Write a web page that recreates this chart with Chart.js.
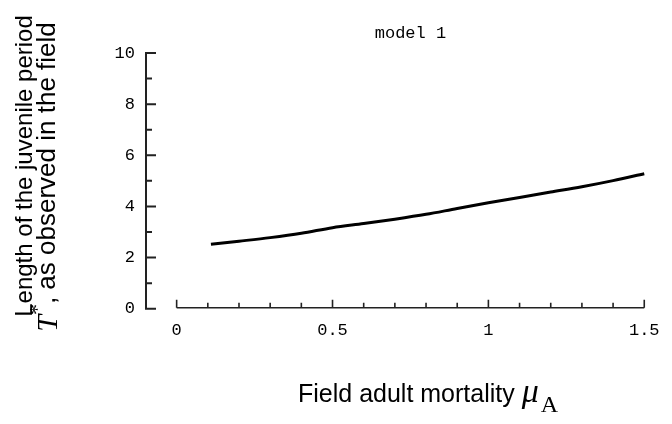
<!DOCTYPE html>
<html>
<head>
<meta charset="utf-8">
<script src="https://cdn.jsdelivr.net/npm/chart.js@4.4.0/dist/chart.umd.min.js"></script>
<style>
  body { margin: 0; background: #fff; }
</style>
</head>
<body>
<canvas id="myChart" width="672" height="424"></canvas>
<script>
// values
const muA = [0.11, 0.2, 0.3, 0.4, 0.5, 0.6, 0.7, 0.8, 0.9, 1.0, 1.1, 1.2, 1.3, 1.4, 1.5];
const tStar = [2.52, 2.64, 2.78, 2.95, 3.17, 3.33, 3.50, 3.69, 3.92, 4.14, 4.35, 4.56, 4.77, 5.01, 5.28];
const xTicks = [0, 0.5, 1, 1.5];
const yTicks = [0, 2, 4, 6, 8, 10];
const chartTitle = 'model 1';

const ctx = document.getElementById('myChart');
const monoFont = '"Liberation Mono", "DejaVu Sans Mono", monospace';

const points = [];
muA.forEach((m, i) => {
    points.push({ x: m, y: tStar[i] });
});

// draws the detached axes, inward ticks and the titles
const axesPlugin = {
    id: 'axesPlugin',
    afterDraw(chart) {
        const c = chart.ctx;
        const xs = chart.scales.x;
        const ys = chart.scales.y;
        c.save();
        c.strokeStyle = '#222';
        c.lineWidth = 2;

        // y axis
        const ax = chart.chartArea.left;
        c.beginPath();
        c.moveTo(ax, ys.getPixelForValue(10));
        c.lineTo(ax, ys.getPixelForValue(0));
        for (let v = 0; v <= 10; v++) {
            const py = ys.getPixelForValue(v);
            const len = v % 2 === 0 ? 10 : 6;
            c.moveTo(ax - 1, py);
            c.lineTo(ax + len, py);
        }
        c.stroke();

        // x axis
        const ay = ys.getPixelForValue(0) - 1;
        c.lineWidth = 1.6;
        c.beginPath();
        c.moveTo(xs.getPixelForValue(0), ay);
        c.lineTo(xs.getPixelForValue(1.5), ay);
        for (let k = 0; k <= 15; k++) {
            const px = xs.getPixelForValue(k / 10);
            const len = k % 5 === 0 ? 8 : 5;
            c.moveTo(px, ay);
            c.lineTo(px, ay - len);
        }
        c.stroke();

        c.fillStyle = '#000';
        // chart title
        c.font = '17px ' + monoFont;
        c.textAlign = 'center';
        c.textBaseline = 'middle';
        c.fillText(chartTitle, (xs.getPixelForValue(0) + xs.getPixelForValue(1.5)) / 2, 33);

        // x title
        c.textAlign = 'left';
        c.textBaseline = 'alphabetic';
        c.font = '25px "Liberation Sans", Arial, sans-serif';
        const s1 = 'Field adult mortality ';
        let tx = 298;
        c.fillText(s1, tx, 402);
        tx += c.measureText(s1).width;
        c.font = 'italic 34px "Liberation Serif", "Times New Roman", serif';
        c.fillText('\u03BC', tx, 402);
        tx += c.measureText('\u03BC').width + 2;
        c.font = '24px "Liberation Serif", "Times New Roman", serif';
        c.fillText('A', tx, 412);

        // y title (two rotated lines)
        c.save();
        c.translate(25, 166);
        c.rotate(-Math.PI / 2);
        c.textAlign = 'center';
        c.textBaseline = 'middle';
        c.font = '24px "Liberation Sans", Arial, sans-serif';
        c.fillText('Length of the juvenile period', 0, 0);
        c.restore();

        c.save();
        c.translate(48, 177);
        c.rotate(-Math.PI / 2);
        c.textBaseline = 'middle';
        const l2 = ', as observed in the field';
        const sans2 = '26px "Liberation Sans", Arial, sans-serif';
        const tFont = 'italic 30px "Liberation Serif", "Times New Roman", serif';
        const sFont = '22px "Liberation Serif", "Times New Roman", serif';
        c.font = sans2;
        const w2 = c.measureText(l2).width;
        c.font = tFont;
        const wT = c.measureText('T').width;
        c.font = sFont;
        const wS = c.measureText('*').width;
        let lx = -(wT + wS + w2) / 2;
        c.textAlign = 'left';
        c.font = tFont;
        c.fillText('T', lx, 1);
        lx += wT;
        c.font = sFont;
        c.fillText('*', lx, -10);
        lx += wS;
        c.font = sans2;
        c.fillText(l2, lx, 0);
        c.restore();

        c.restore();
    }
};

new Chart(ctx, {
    type: 'line',
    data: {
        datasets: [{
            data: points,
            borderColor: '#000',
            borderWidth: 3,
            pointRadius: 0,
            cubicInterpolationMode: 'monotone',
            fill: false
        }]
    },
    options: {
        responsive: false,
        animation: false,
        layout: {
            padding: { top: 53, right: 24, left: 0, bottom: 0 }
        },
        plugins: {
            legend: { display: false },
            tooltip: { enabled: false }
        },
        scales: {
            x: {
                type: 'linear',
                min: -0.0983,
                max: 1.512,
                grid: { display: false, drawTicks: false },
                border: { display: false },
                afterBuildTicks: function(scale) {
                    scale.ticks = xTicks.map(v => ({ value: v }));
                },
                afterFit: function(scale) {
                    scale.height = 115.3;
                },
                ticks: {
                    padding: 12,
                    autoSkip: false,
                    maxRotation: 0,
                    color: '#000',
                    font: { family: monoFont, size: 17 },
                    callback: function(v) { return String(v); }
                }
            },
            y: {
                min: 0,
                max: 10,
                grid: { display: false, drawTicks: false },
                border: { display: false },
                afterBuildTicks: function(scale) {
                    scale.ticks = yTicks.map(v => ({ value: v }));
                },
                afterFit: function(scale) {
                    scale.width = 146;
                },
                ticks: {
                    padding: 11,
                    color: '#000',
                    font: { family: monoFont, size: 17 },
                    callback: function(v) { return String(v); }
                }
            }
        }
    },
    plugins: [axesPlugin]
});
</script>
</body>
</html>
